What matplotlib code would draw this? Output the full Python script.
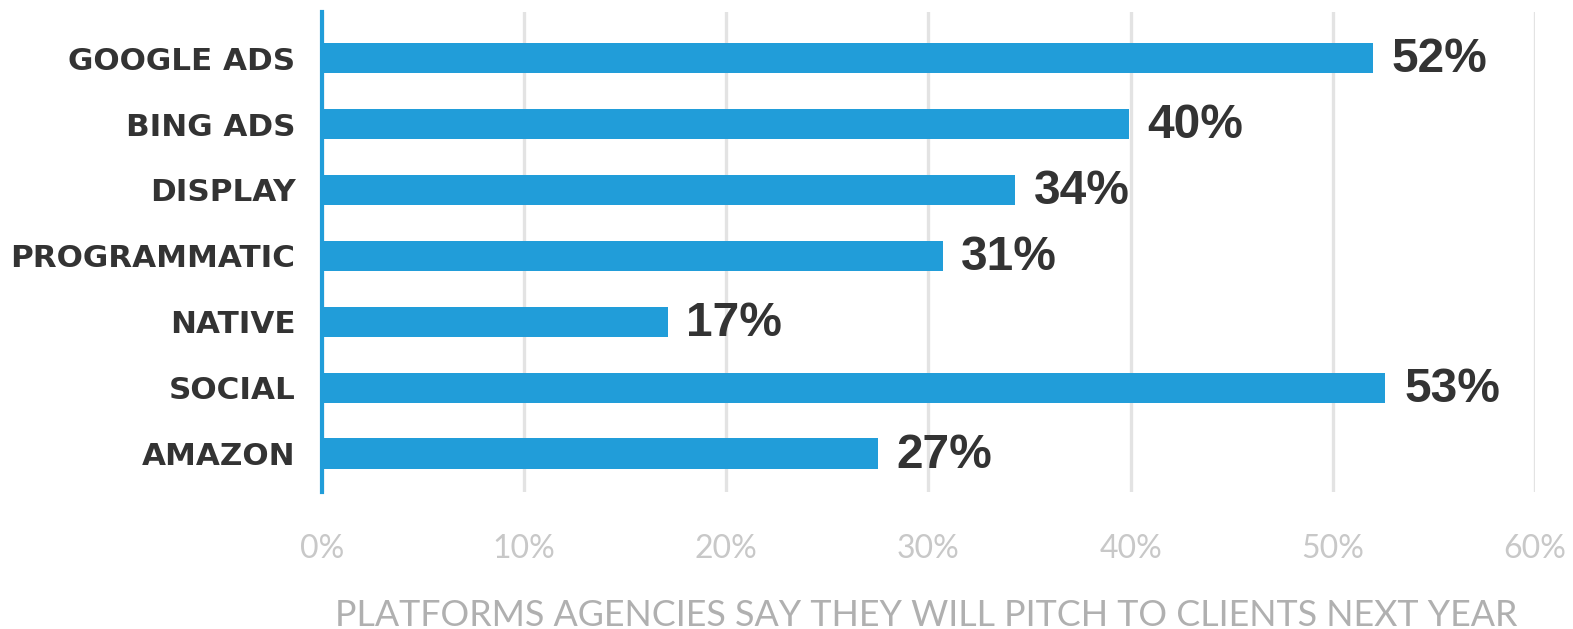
import matplotlib.pyplot as plt
import numpy as np

categories = ["GOOGLE ADS", "BING ADS", "DISPLAY", "PROGRAMMATIC", "NATIVE", "SOCIAL", "AMAZON"]
values = [52.0, 39.9, 34.3, 30.7, 17.1, 52.6, 27.5]
value_labels = ["52%", "40%", "34%", "31%", "17%", "53%", "27%"]
xticks = [0, 10, 20, 30, 40, 50, 60]
title = "PLATFORMS AGENCIES SAY THEY WILL PITCH TO CLIENTS NEXT YEAR"

bar_color = "#219dd9"
dark = "#333333"

fig = plt.figure(figsize=(15.73, 6.29), dpi=100)
ax = fig.add_axes([0.2047, 0.218, 0.9758 - 0.2047, 0.981 - 0.218])

y = np.arange(len(categories))
ax.barh(y, values, height=0.46, color=bar_color, zorder=3)

for yi, v, lab in zip(y, values, value_labels):
    ax.annotate(lab, (v, yi), xytext=(13.5, -1), textcoords="offset points",
                ha="left", va="center", fontsize=34.5, fontweight="bold",
                family="Liberation Sans", color=dark, zorder=4)

ax.set_xlim(0, 60)
ax.set_ylim(6.58, -0.70)
ax.set_xticks(xticks)
ax.set_xticklabels([f"{t}%" for t in xticks], family="Lato", fontweight="normal",
                   fontsize=23, color="#c8c8c8")
ax.set_yticks(y)
ax.set_yticklabels(categories, family="DejaVu Sans", fontweight="bold",
                   fontsize=22.3, color=dark)
ax.tick_params(axis="x", length=0, pad=30)
ax.tick_params(axis="y", length=0, pad=19)

ax.grid(axis="x", color="#e3e3e3", linewidth=2.4, zorder=0)
for s in ["top", "right", "bottom"]:
    ax.spines[s].set_visible(False)
ax.spines["left"].set_color(bar_color)
ax.spines["left"].set_linewidth(3)
ax.spines["left"].set_zorder(5)

fig.text(0.589, 0.022, title, ha="center", va="center", family="Lato",
         fontweight="normal", fontsize=25.8, color="#b0b0b0")

fig.savefig("out.png", dpi=100, facecolor="white")
